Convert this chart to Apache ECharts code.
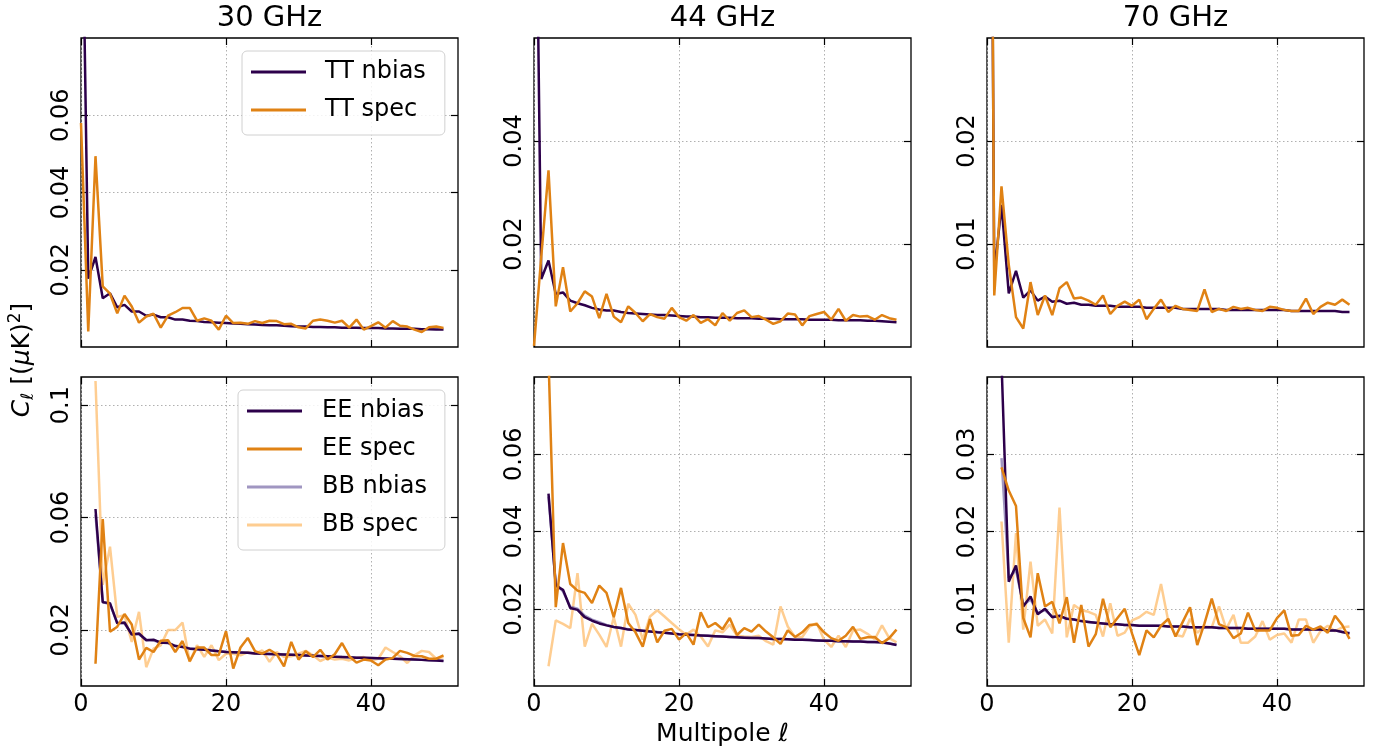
<!DOCTYPE html>
<html>
<head>
<meta charset="utf-8">
<title>noise bias</title>
<script src="https://cdn.jsdelivr.net/npm/echarts@6/dist/echarts.min.js"></script>
<style>
  html, body { margin: 0; padding: 0; background: #fff; }
  #main { width: 1379px; height: 751px; }
</style>
</head>
<body>
<div id="main"></div>
<script type="text/javascript">
// multipoles
var ellT = [0,1,2,3,4,5,6,7,8,9,10,11,12,13,14,15,16,17,18,19,20,21,22,23,24,25,26,27,28,29,30,
            31,32,33,34,35,36,37,38,39,40,41,42,43,44,45,46,47,48,49,50];
var ellP = [2,3,4,5,6,7,8,9,10,11,12,13,14,15,16,17,18,19,20,21,22,23,24,25,26,27,28,29,30,
            31,32,33,34,35,36,37,38,39,40,41,42,43,44,45,46,47,48,49,50];

// 30 GHz
var tt30Nbias = [0.142,0.0177,0.0233,0.0126,0.0139,0.0103,0.0109,0.0092,0.0092,0.0081,0.0084,
  0.0077,0.0077,0.0071,0.0071,0.0068,0.0067,0.0065,0.0064,0.0063,0.0062,
  0.0061,0.0060,0.0059,0.0058,0.0057,0.0056,0.0056,0.0055,0.0054,0.0053,
  0.0053,0.0052,0.0052,0.0051,0.0051,0.0050,0.0050,0.0050,0.0049,0.0049,
  0.0049,0.0048,0.0048,0.0047,0.0047,0.0047,0.0046,0.0046,0.0045,0.0045];
var tt30Spec = [0.058,0.0040,0.0494,0.0157,0.0138,0.0087,0.0133,0.0105,0.0063,0.0079,0.0086,
  0.0050,0.0081,0.0090,0.0101,0.0101,0.0068,0.0074,0.0068,0.0045,0.0081,
  0.0062,0.0063,0.0060,0.0067,0.0062,0.0068,0.0067,0.0059,0.0060,0.0051,
  0.0048,0.0068,0.0071,0.0068,0.0063,0.0068,0.0050,0.0071,0.0045,0.0054,
  0.0064,0.0050,0.0067,0.0055,0.0053,0.0045,0.0039,0.0051,0.0053,0.0049];
var ee30Nbias = [0.063,0.0298,0.0295,0.0223,0.0226,0.0183,0.0187,0.0163,0.0165,0.0154,0.0154,
  0.0142,0.0139,0.0133,0.0131,0.0129,0.0126,0.0124,0.0121,
  0.0120,0.0119,0.0118,0.0116,0.0115,0.0114,0.0113,0.0112,0.0111,0.0110,
  0.0109,0.0108,0.0107,0.0106,0.0104,0.0103,0.0102,0.0101,0.0101,0.0100,
  0.0099,0.0098,0.0097,0.0096,0.0095,0.0094,0.0093,0.0092,0.0091,0.0089];
var ee30Spec = [0.0079,0.0594,0.0193,0.0211,0.0256,0.0219,0.0094,0.0136,0.0121,0.0161,0.0163,
  0.0121,0.0160,0.0088,0.0137,0.0137,0.0110,0.0110,0.0195,
  0.0062,0.0137,0.0171,0.0124,0.0115,0.0129,0.0113,0.0070,0.0157,0.0094,
  0.0124,0.0103,0.0129,0.0094,0.0113,0.0153,0.0106,0.0083,0.0094,0.0091,
  0.0074,0.0094,0.0100,0.0125,0.0118,0.0107,0.0106,0.0097,0.0097,0.0109];
var bb30Nbias = [0.061,0.0300,0.0290,0.0225,0.0222,0.0185,0.0183,0.0165,0.0162,0.0155,0.0152,
  0.0143,0.0140,0.0134,0.0132,0.0129,0.0127,0.0124,0.0122,
  0.0120,0.0119,0.0118,0.0117,0.0115,0.0114,0.0113,0.0112,0.0111,0.0110,
  0.0109,0.0108,0.0107,0.0106,0.0105,0.0103,0.0102,0.0101,0.0100,0.0100,
  0.0099,0.0098,0.0097,0.0096,0.0095,0.0094,0.0093,0.0092,0.0091,0.0090];
var bb30Spec = [0.1086,0.036,0.0496,0.0246,0.0252,0.0157,0.0264,0.0067,0.0133,0.0145,0.0199,
  0.0199,0.0226,0.0086,0.0145,0.0104,0.0145,0.0092,0.0115,
  0.0115,0.0109,0.0121,0.0115,0.0127,0.0086,0.0121,0.0103,0.0106,0.0115,
  0.0125,0.0109,0.0089,0.0101,0.0094,0.0097,0.0091,0.0100,0.0103,0.0091,
  0.0097,0.0137,0.0121,0.0106,0.0082,0.0109,0.0125,0.0121,0.0097,0.0103];

// 44 GHz
var tt44Nbias = [0.128,0.0132,0.0168,0.0103,0.0106,0.0090,0.0085,0.0081,0.0076,0.0073,0.0071,
  0.0071,0.0068,0.0066,0.0065,0.0064,0.0063,0.0062,0.0062,0.0061,0.0060,
  0.0059,0.0059,0.0058,0.0058,0.0057,0.0057,0.0057,0.0056,0.0056,0.0056,
  0.0055,0.0055,0.0055,0.0054,0.0054,0.0054,0.0054,0.0053,0.0053,0.0053,
  0.0053,0.0052,0.0052,0.0052,0.0052,0.0051,0.0051,0.0050,0.0049,0.0048];
var tt44Spec = [0.0002,0.0175,0.0343,0.0079,0.0155,0.0069,0.0085,0.0108,0.0098,0.0056,0.0103,
  0.0059,0.0048,0.0079,0.0066,0.0050,0.0064,0.0058,0.0055,0.0076,0.0058,
  0.0051,0.0062,0.0047,0.0054,0.0042,0.0066,0.0051,0.0066,0.0071,0.0058,
  0.0060,0.0053,0.0045,0.0050,0.0065,0.0063,0.0042,0.0060,0.0064,0.0068,
  0.0053,0.0074,0.0051,0.0062,0.0059,0.0060,0.0053,0.0062,0.0056,0.0053];
var ee44Nbias = [0.0498,0.0260,0.0249,0.0202,0.0197,0.0178,0.0169,0.0162,0.0157,0.0153,0.0150,
  0.0146,0.0145,0.0143,0.0141,0.0139,0.0138,0.0136,0.0134,
  0.0133,0.0132,0.0131,0.0130,0.0129,0.0128,0.0127,0.0126,0.0125,0.0124,
  0.0124,0.0123,0.0122,0.0122,0.0121,0.0120,0.0120,0.0119,0.0118,0.0117,
  0.0117,0.0116,0.0116,0.0115,0.0115,0.0114,0.0114,0.0113,0.0110,0.0106];
var ee44Spec = [0.085,0.0204,0.0370,0.0264,0.0247,0.0241,0.0215,0.0260,0.0241,0.0178,0.0254,
  0.0163,0.0139,0.0102,0.0173,0.0113,0.0143,0.0148,0.0120,
  0.0137,0.0107,0.0191,0.0152,0.0163,0.0147,0.0176,0.0132,0.0150,0.0141,
  0.0159,0.0141,0.0126,0.0109,0.0144,0.0127,0.0139,0.0158,0.0160,0.0139,
  0.0124,0.0117,0.0130,0.0153,0.0122,0.0126,0.0127,0.0111,0.0124,0.0146];
var bb44Nbias = [0.049,0.0265,0.0245,0.0205,0.0200,0.0182,0.0172,0.0165,0.0158,0.0153,0.0150,
  0.0147,0.0145,0.0143,0.0141,0.0140,0.0138,0.0136,0.0134,
  0.0133,0.0132,0.0131,0.0130,0.0129,0.0128,0.0127,0.0126,0.0125,0.0125,
  0.0124,0.0123,0.0122,0.0122,0.0121,0.0120,0.0120,0.0119,0.0118,0.0118,
  0.0117,0.0116,0.0116,0.0115,0.0115,0.0114,0.0113,0.0112,0.0110,0.0107];
var bb44Spec = [0.0051,0.0170,0.0161,0.0150,0.0292,0.0102,0.0161,0.0133,0.0101,0.0178,0.0102,
  0.0213,0.0184,0.0120,0.0180,0.0196,0.0180,0.0163,0.0147,
  0.0133,0.0146,0.0128,0.0102,0.0144,0.0139,0.0159,0.0130,0.0128,0.0127,
  0.0130,0.0116,0.0107,0.0206,0.0154,0.0127,0.0127,0.0154,0.0163,0.0120,
  0.0101,0.0130,0.0101,0.0144,0.0146,0.0135,0.0121,0.0157,0.0124,0.0113];

// 70 GHz
var tt70Nbias = [0.12,0.007,0.0138,0.0052,0.0074,0.0048,0.0055,0.0045,0.0049,0.0044,0.0045,
  0.0042,0.0043,0.0041,0.0041,0.0040,0.0040,0.0040,0.0039,0.0039,0.0039,
  0.0039,0.0038,0.0038,0.0038,0.0038,0.0038,0.0037,0.0037,0.0037,0.0037,
  0.0037,0.0037,0.0036,0.0036,0.0036,0.0036,0.0036,0.0036,0.0036,0.0036,
  0.0036,0.0035,0.0035,0.0035,0.0035,0.0035,0.0035,0.0035,0.0034,0.0034];
var tt70Spec = [0.14,0.0050,0.0156,0.0080,0.0029,0.0018,0.0063,0.0031,0.0050,0.0031,0.0057,
  0.0063,0.0047,0.0048,0.0045,0.0041,0.0050,0.0032,0.0040,0.0044,0.0040,
  0.0046,0.0027,0.0037,0.0046,0.0034,0.0040,0.0037,0.0036,0.0035,0.0056,
  0.0034,0.0037,0.0035,0.0039,0.0037,0.0038,0.0036,0.0035,0.0039,0.0038,
  0.0036,0.0035,0.0035,0.0047,0.0032,0.0039,0.0043,0.0041,0.0046,0.0041];
var ee70Nbias = [0.042,0.0135,0.0156,0.0103,0.0116,0.0093,0.0100,0.0089,0.0091,0.0087,0.0086,
  0.0084,0.0083,0.0082,0.0081,0.0080,0.0080,0.0079,0.0079,
  0.0078,0.0078,0.0078,0.0078,0.0077,0.0077,0.0077,0.0076,0.0076,0.0076,
  0.0076,0.0075,0.0075,0.0075,0.0075,0.0074,0.0074,0.0074,0.0074,0.0074,
  0.0074,0.0073,0.0073,0.0073,0.0073,0.0073,0.0072,0.0072,0.0070,0.0068];
var ee70Spec = [0.0283,0.0253,0.0233,0.0088,0.0063,0.0146,0.0103,0.0109,0.0081,0.0115,0.0056,
  0.0105,0.0051,0.0067,0.0113,0.0076,0.0088,0.0100,0.0068,
  0.0040,0.0072,0.0063,0.0078,0.0087,0.0064,0.0083,0.0102,0.0053,0.0081,
  0.0113,0.0080,0.0076,0.0062,0.0068,0.0095,0.0072,0.0072,0.0072,0.0088,
  0.0098,0.0065,0.0066,0.0078,0.0073,0.0077,0.0069,0.0091,0.0079,0.0061];
var bb70Nbias = [0.0295,0.0140,0.0150,0.0105,0.0112,0.0095,0.0098,0.0090,0.0090,0.0087,0.0086,
  0.0084,0.0083,0.0082,0.0081,0.0080,0.0080,0.0079,0.0079,
  0.0078,0.0078,0.0078,0.0078,0.0077,0.0077,0.0077,0.0076,0.0076,0.0076,
  0.0076,0.0075,0.0075,0.0075,0.0075,0.0074,0.0074,0.0074,0.0074,0.0074,
  0.0074,0.0073,0.0073,0.0073,0.0073,0.0073,0.0072,0.0072,0.0070,0.0069];
var bb70Spec = [0.0213,0.0056,0.0198,0.0073,0.0161,0.0078,0.0086,0.0068,0.0231,0.0063,0.0105,
  0.0098,0.0096,0.0092,0.0064,0.0107,0.0065,0.0069,0.0085,
  0.0089,0.0096,0.0092,0.0132,0.0084,0.0066,0.0064,0.0087,0.0069,0.0077,
  0.0076,0.0103,0.0074,0.0092,0.0056,0.0056,0.0064,0.0084,0.0060,0.0066,
  0.0068,0.0056,0.0086,0.0086,0.0056,0.0071,0.0078,0.0071,0.0076,0.0077];

var titles = ['30 GHz', '44 GHz', '70 GHz'];
var xTicks = [0, 20, 40];
var yTicks = [[0.02, 0.04, 0.06], [0.02, 0.04], [0.01, 0.02],
              [0.02, 0.06, 0.1], [0.02, 0.04, 0.06], [0.01, 0.02, 0.03]];
var yMax = [0.08, 0.06, 0.03, 0.11, 0.08, 0.04];

var colors = {
    'TT nbias': '#2d004b', 'TT spec': '#e08214',
    'EE nbias': '#2d004b', 'EE spec': '#e08214',
    'BB nbias': 'rgba(128,115,172,0.75)', 'BB spec': 'rgba(253,184,99,0.7)'
};
// drawing order: the BB curves sit under the EE ones
var zOrder = {'TT nbias': 4, 'TT spec': 5, 'EE nbias': 4, 'EE spec': 5, 'BB nbias': 3, 'BB spec': 2};

var panels = [
    [['TT nbias', ellT, tt30Nbias], ['TT spec', ellT, tt30Spec]],
    [['TT nbias', ellT, tt44Nbias], ['TT spec', ellT, tt44Spec]],
    [['TT nbias', ellT, tt70Nbias], ['TT spec', ellT, tt70Spec]],
    [['EE nbias', ellP, ee30Nbias], ['EE spec', ellP, ee30Spec], ['BB nbias', ellP, bb30Nbias], ['BB spec', ellP, bb30Spec]],
    [['EE nbias', ellP, ee44Nbias], ['EE spec', ellP, ee44Spec], ['BB nbias', ellP, bb44Nbias], ['BB spec', ellP, bb44Spec]],
    [['EE nbias', ellP, ee70Nbias], ['EE spec', ellP, ee70Spec], ['BB nbias', ellP, bb70Nbias], ['BB spec', ellP, bb70Spec]]
];

var FONT = '"DejaVu Sans", sans-serif';
var colLeft = [81, 534, 987];
var rowTop = [38, 377];
var cellW = 377, cellH = 309;

var myChart = echarts.init(document.getElementById('main'), null, {renderer: 'canvas'});

var grids = [], xAxes = [], yAxes = [], series = [];
var tick = {show: true, inside: true, length: 7, lineStyle: {color: '#000', width: 1.2}};
var dotted = {show: true, lineStyle: {color: '#b0b0b0', width: 1, type: [1.5, 2.5]}};
var noLine = {show: false, onZero: false};

panels.forEach(function (lines, i) {
    var col = i % 3, row = Math.floor(i / 3);
    grids.push({
        left: colLeft[col], top: rowTop[row], width: cellW, height: cellH,
        show: true, borderColor: '#000', borderWidth: 1.3, backgroundColor: 'transparent',
        containLabel: false, outerBoundsMode: 'none'
    });
    xAxes.push({
        type: 'value', gridIndex: i, min: 0, max: 52, position: 'bottom',
        axisLine: noLine,
        axisTick: Object.assign({customValues: xTicks}, tick),
        axisLabel: {show: row === 1, customValues: xTicks, fontSize: 24, fontFamily: FONT, color: '#000', margin: 7},
        splitLine: dotted
    });
    xAxes.push({
        type: 'value', gridIndex: i, min: 0, max: 52, position: 'top',
        axisLine: noLine,
        axisTick: Object.assign({customValues: xTicks}, tick),
        axisLabel: {show: false}, splitLine: {show: false}
    });
    yAxes.push({
        type: 'value', gridIndex: i, min: 0, max: yMax[i], position: 'left',
        axisLine: noLine,
        axisTick: Object.assign({customValues: yTicks[i]}, tick),
        axisLabel: {customValues: yTicks[i], rotate: 90, fontSize: 24, fontFamily: FONT, color: '#000', margin: 7},
        splitLine: dotted
    });
    yAxes.push({
        type: 'value', gridIndex: i, min: 0, max: yMax[i], position: 'right',
        axisLine: noLine,
        axisTick: Object.assign({customValues: yTicks[i]}, tick),
        axisLabel: {show: false}, splitLine: {show: false}
    });
    lines.forEach(function (ln) {
        var pts = ln[1].map(function (l, k) { return [l, ln[2][k]]; });
        series.push({
            name: ln[0], type: 'line', xAxisIndex: 2 * i, yAxisIndex: 2 * i,
            data: pts, symbol: 'none', showSymbol: false, clip: true,
            color: colors[ln[0]],
            lineStyle: {width: 2.5, color: colors[ln[0]]},
            z: zOrder[ln[0]], silent: true
        });
    });
});

var legendText = {fontSize: 24, fontFamily: FONT, color: '#000', lineHeight: 30};

myChart.setOption({
    animation: false,
    grid: grids,
    xAxis: xAxes,
    yAxis: yAxes,
    series: series,
    legend: [{
        data: ['TT nbias', 'TT spec'], orient: 'vertical', left: 242, top: 51,
        padding: [6, 19, 10, 9], itemWidth: 55, itemHeight: 3, itemGap: 8, icon: 'rect',
        selectedMode: false,
        textStyle: Object.assign({padding: [0, 0, 0, 14]}, legendText),
        backgroundColor: 'rgba(255,255,255,0.85)', borderColor: '#d0d0d0', borderWidth: 1, borderRadius: 5
    }, {
        data: ['EE nbias', 'EE spec', 'BB nbias', 'BB spec'], orient: 'vertical', left: 238, top: 390,
        padding: [6, 18, 10, 9], itemWidth: 55, itemHeight: 3, itemGap: 8, icon: 'rect',
        selectedMode: false,
        textStyle: Object.assign({padding: [0, 0, 0, 15]}, legendText),
        backgroundColor: 'rgba(255,255,255,0.85)', borderColor: '#d0d0d0', borderWidth: 1, borderRadius: 5
    }],
    graphic: [
        {type: 'text', x: colLeft[0] + cellW / 2, y: 18, style: {text: titles[0], fontSize: 29, fontFamily: FONT, fill: '#000', align: 'center', verticalAlign: 'middle'}},
        {type: 'text', x: colLeft[1] + cellW / 2, y: 18, style: {text: titles[1], fontSize: 29, fontFamily: FONT, fill: '#000', align: 'center', verticalAlign: 'middle'}},
        {type: 'text', x: colLeft[2] + cellW / 2, y: 18, style: {text: titles[2], fontSize: 29, fontFamily: FONT, fill: '#000', align: 'center', verticalAlign: 'middle'}},
        {type: 'text', x: colLeft[1] + cellW / 2, y: 734, style: {
            text: '{n|Multipole }{i|ℓ}', align: 'center', verticalAlign: 'middle', fill: '#000',
            rich: {
                n: {fontSize: 25, fontFamily: FONT, fill: '#000'},
                i: {fontSize: 25, fontFamily: FONT, fontStyle: 'italic', fill: '#000'}
            }
        }},
        {type: 'text', x: 22, y: 360, rotation: Math.PI / 2, style: {
            text: '{i|C}{sub|ℓ}{n| [(}{i|μ}{n|K)}{sup|2}{n|]}', align: 'center', verticalAlign: 'middle', fill: '#000',
            rich: {
                n: {fontSize: 25, fontFamily: FONT, fill: '#000', lineHeight: 30},
                i: {fontSize: 25, fontFamily: FONT, fontStyle: 'italic', fill: '#000', lineHeight: 30},
                sub: {fontSize: 17, fontFamily: FONT, fontStyle: 'italic', fill: '#000', lineHeight: 30, verticalAlign: 'bottom', padding: [8, 0, 0, 0]},
                sup: {fontSize: 17, fontFamily: FONT, fill: '#000', lineHeight: 30, verticalAlign: 'top', padding: [0, 0, 10, 0]}
            }
        }}
    ]
});
</script>
</body>
</html>
